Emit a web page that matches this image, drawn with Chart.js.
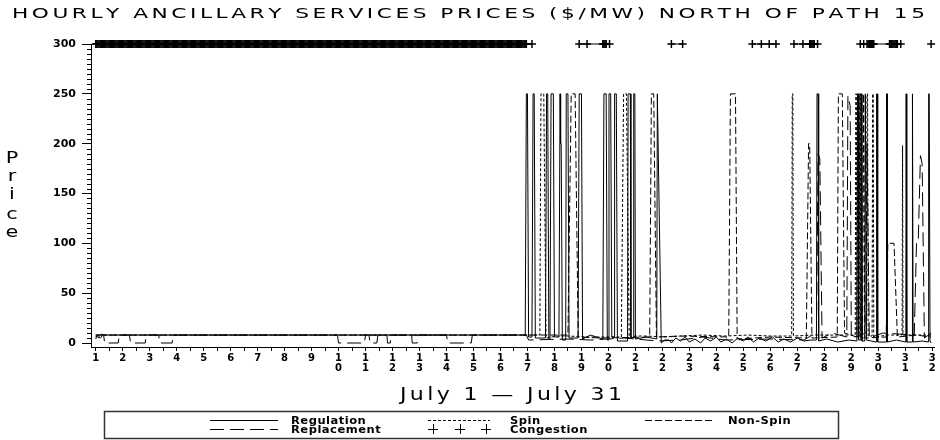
<!DOCTYPE html>
<html><head><meta charset="utf-8">
<script src="https://cdn.jsdelivr.net/npm/chart.js@4.4.0/dist/chart.umd.min.js"></script>
<style>html,body{margin:0;padding:0;background:#fff}#wrap{width:940px;height:440px}</style>
</head><body><div id="wrap"><canvas id="c" width="940" height="440"></canvas></div>
<script>
const chartTitle = 'HOURLY ANCILLARY SERVICES PRICES ($/MW) NORTH OF PATH 15';
const yTitle = 'Price';
const xTitle = 'July 1 \u2014 July 31';
const yTickValues = [0, 50, 100, 150, 200, 250, 300];
const dayLabels = ['1','2','3','4','5','6','7','8','9','10','11','12','13','14','15','16',
  '17','18','19','20','21','22','23','24','25','26','27','28','29','30','31','32'];

// [hour since July 1 00:00, $/MW]
const regulation = [[0,8],[6,8],[10,8],[382,8],[383,250],[384,250],[385,6],[388,6],[389,250],[390,250],
  [391,5],[400,5],[401,250],[402,250],[403,4],[404,4],[405,250],[407,250],[408,6],[412,6],[413,250],
  [413.5,200],[414,200],[415,3],[418,3],[418.5,250],[420,250],[421,5],[429,5],[430,250],[432,250],[433,4],
  [440,8],[451,4],[452,250],[454,250],[455,3],[456,3],[456.5,250],[458,250],[459,6],[461,6],[461.5,250],
  [463,250],[464,2],[473,2],[473.5,250],[475.5,250],[476,5],[478,5],[478.5,250],[479.5,250],[480,4],
  [490,6],[499,4],[499.5,250],[500,250],[503,0],[506,3],[510,3],[512,0],[516,5],[520,2],[524,6],[528,1],
  [533,4],[538,0],[542,5],[547,2],[552,6],[556,1],[561,4],[566,0],[571,5],[576,2],[580,6],[585,1],[590,5],
  [596,2],[602,6],[607,1],[612,4],[618,1],[624,5],[630,2],[636,3],[641,3],[641.5,250],[642.5,250],[643,2],
  [650,4],[660,1],[670,3],[677,2],[677.5,250],[678,250],[678.5,3],[680,3],[680.5,250],[681,250],[681.5,2],
  [684,2],[684.5,250],[685,250],[685.5,3],[694,1],[694.5,250],[695,250],[695.5,1],[703,1],[703.3,250],
  [703.8,250],[704,1],[712,3],[720.5,1],[720.8,250],[721.2,250],[721.5,1],[726,1],[726.2,250],[726.6,250],
  [727,1],[735,2],[740.5,1],[740.8,250],[741.3,250],[742,2],[743,0]];
const spin = [[0,6],[2,9],[4,4],[6,8],[9,8],[395,8],[396,250],[398.5,250],[400.5,5],[410,7],[420,7],
  [440,6],[467.5,6],[469.5,250],[472,250],[474.5,5],[480,7],[490,7],[505,6],[520,7],[540,8],[560,7],
  [580,8],[600,7],[619,7],[619.5,250],[620,250],[620.5,7],[640,8],[655,8],[675.5,8],[676,250],[676.5,250],
  [677,6],[679,6],[679.5,250],[680,250],[680.5,5],[685.5,5],[686,250],[686.5,250],[687,7],[690.5,7],
  [691,250],[691.5,250],[692,6],[705,8],[717.2,8],[717.6,198],[718,8],[743,8]];
const nonSpin = [[0,4],[1,7],[3,5],[5,9],[7,8],[420,8],[422.9,250],[426.4,250],[429.1,6],[450,5],
  [492.7,6],[494.2,250],[496.3,250],[498.7,6],[520,7],[563,6],[564.5,250],[569,250],[570.5,4],[600,6],
  [632,5],[634,200],[635,200],[637,5],[659.5,6],[660.5,250],[664,250],[666,10],[677,6],[678,250],[679,250],
  [680,6],[682,6],[683,250],[684,5],[703,6],[704.5,100],[710,100],[713,6],[730,8],[743,6]];
const replacement = [[0,8],[7,8],[8,0],[20,0],[21,8],[30,8],[31,0],[44,0],[45,8],[56,8],[57,0],[68,0],
  [69,8],[215,8],[216,0],[239,0],[240,8],[243,8],[244,0],[250,0],[251,8],[259,8],[259.5,0],[262,0],
  [262.5,8],[281,8],[281.5,0],[286,0],[286.5,8],[312,8],[313,0],[334,0],[335,8],[383,8],[385,3],[420,4],
  [440,3],[470,5],[500,2],[520,3],[540,6],[560,3],[600,4],[630,3],[640,10],[641,8],[642.5,190],[644,185],
  [646,5],[655,10],[668,6],[669,248],[671,238],[672,5],[685,10],[686,200],[688,5],[700,10],[728,8],
  [730,100],[731.5,100],[733.5,188],[735,180],[737,5],[743,10]];
// congested hours at the $300 marker line: [first hour, last hour, joined group]
const congestionRuns = [[0,383,1],[388,388,1],[430,430,2],[437,437,2],[451,454,2],[457,457,2],
  [512,512,3],[522,522,3],[584,584,4],[592,592,4],[599,599,4],[605,605,4],[621,621,5],[629,629,5],
  [635,639,5],[642,642,5],[680,680,6],[683,683,6],[686,692,6],[706,713,6],[716,716,6],[743,743,7]];
const congestionLevel = 300;

const toPts = a => a.map(p => ({x: p[0], y: p[1]}));
function congestionPts() {
  const out = []; let g = null, last = null;
  congestionRuns.forEach(r => {
    if (g !== null && r[2] !== g) out.push({x: (last + r[0]) / 2, y: null});
    for (let h = r[0]; h <= r[1]; h++) out.push({x: h, y: congestionLevel});
    g = r[2]; last = r[1];
  });
  return out;
}
const tickHours = [];
for (let i = 0; i <= (dayLabels.length - 1) * 2; i++) tickHours.push(i * 12);

// draws text horizontally stretched by sx, spread evenly between x0 and x1
function spaced(ctx, text, x0, x1, y, sx) {
  const chars = text.split('');
  const ws = chars.map(c => ctx.measureText(c).width * sx);
  const tot = ws.reduce((a, b) => a + b, 0);
  const gap = chars.length > 1 ? (x1 - x0 - tot) / (chars.length - 1) : 0;
  let x = x0;
  ctx.textAlign = 'left';
  chars.forEach((c, i) => {
    ctx.save(); ctx.translate(x, y); ctx.scale(sx, 1); ctx.fillText(c, 0, 0); ctx.restore();
    x += ws[i] + gap;
  });
}
// stretched text with a fixed extra gap between characters
function spacedFixed(ctx, text, x0, y, sx, gap) {
  let x = x0;
  ctx.textAlign = 'left';
  text.split('').forEach(c => {
    ctx.save(); ctx.translate(x, y); ctx.scale(sx, 1); ctx.fillText(c, 0, 0); ctx.restore();
    x += ctx.measureText(c).width * sx + gap;
  });
}

const decor = {
  id: 'decor',
  afterDraw(chart) {
    const ctx = chart.ctx, ca = chart.chartArea, ys = chart.scales.y;
    ctx.save();
    ctx.strokeStyle = '#000'; ctx.fillStyle = '#000'; ctx.lineWidth = 1;
    ctx.beginPath();
    for (let v = 5; v < 300; v += 5) {
      if (v % 50 === 0) continue;
      const py = Math.round(ys.getPixelForValue(v)) + 0.5;
      ctx.moveTo(ca.left - 4, py); ctx.lineTo(ca.left, py);
    }
    ctx.stroke();
    ctx.textBaseline = 'alphabetic';
    ctx.font = '14px "DejaVu Sans"';
    spaced(ctx, chartTitle, 12, 925, 18, 1.55);
    ctx.font = '16px "DejaVu Sans"';
    ctx.textAlign = 'center';
    const bl = [163, 181, 199, 219, 237];
    yTitle.split('').forEach((c, i) => {
      ctx.save(); ctx.translate(12, bl[i]); ctx.scale(1.3, 1); ctx.fillText(c, 0, 0); ctx.restore();
    });
    ctx.font = '17px "DejaVu Sans"';
    spaced(ctx, xTitle, 400, 622, 400, 1.3);
    // legend
    ctx.lineWidth = 1.5; ctx.strokeStyle = '#333';
    ctx.strokeRect(104.5, 411.5, 734, 27);
    ctx.strokeStyle = '#000'; ctx.lineWidth = 1;
    const ds = chart.data.datasets;
    const items = [
      {i: 0, sx: 210, ex: 278, tx: 291, y: 420},
      {i: 1, sx: 428, ex: 490, tx: 510, y: 420},
      {i: 2, sx: 645, ex: 712, tx: 728, y: 420},
      {i: 3, sx: 210, ex: 278, tx: 291, y: 429},
      {i: 4, sx: 428, ex: 490, tx: 510, y: 429}
    ];
    ctx.font = 'bold 10px "DejaVu Sans"';
    ctx.textBaseline = 'middle';
    items.forEach(it => {
      const d = ds[it.i];
      if (d.pointStyle === 'cross') {
        ctx.setLineDash([]);
        ctx.beginPath();
        [433, 460, 486].forEach(cx => {
          ctx.moveTo(cx - 5, it.y + 0.5); ctx.lineTo(cx + 5, it.y + 0.5);
          ctx.moveTo(cx + 0.5, it.y - 5); ctx.lineTo(cx + 0.5, it.y + 5);
        });
        ctx.stroke();
      } else {
        ctx.setLineDash(d.borderDash || []);
        ctx.beginPath(); ctx.moveTo(it.sx, it.y + 0.5); ctx.lineTo(it.ex, it.y + 0.5); ctx.stroke();
        ctx.setLineDash([]);
      }
      spacedFixed(ctx, d.label, it.tx, it.y + 1, 1.15, 0.5);
    });
    ctx.restore();
  }
};

const tickFont = {family: 'DejaVu Sans', weight: 'bold', size: 10, lineHeight: 1.05};
new Chart(document.getElementById('c'), {
  type: 'line',
  data: {datasets: [
    {label: 'Regulation', data: toPts(regulation), borderColor: '#000', borderWidth: 1, pointRadius: 0, borderDash: []},
    {label: 'Spin', data: toPts(spin), borderColor: '#000', borderWidth: 1, pointRadius: 0, borderDash: [3, 2]},
    {label: 'Non-Spin', data: toPts(nonSpin), borderColor: '#000', borderWidth: 1, pointRadius: 0, borderDash: [7, 3]},
    {label: 'Replacement', data: toPts(replacement), borderColor: '#000', borderWidth: 1, pointRadius: 0, borderDash: [14, 6]},
    {label: 'Congestion', data: congestionPts(), borderColor: '#000', borderWidth: 1, pointStyle: 'cross',
     pointRadius: 4, pointBorderWidth: 1.5, pointBorderColor: '#000', spanGaps: false, clip: false}
  ]},
  options: {
    responsive: false, animation: false, events: [],
    layout: {padding: {left: 0, right: 5, top: 44, bottom: 0}},
    plugins: {legend: {display: false}, title: {display: false}, tooltip: {enabled: false}},
    elements: {line: {tension: 0}},
    scales: {
      x: {type: 'linear', min: -4.18, max: 746,
        afterFit(s) { s.height = 93; },
        afterBuildTicks(s) { s.ticks = tickHours.map(v => ({value: v})); },
        ticks: {autoSkip: false, maxRotation: 0, minRotation: 0, color: '#000', padding: 2, font: tickFont,
          callback(v) { return v % 24 === 0 ? dayLabels[v / 24].split('') : ''; }},
        grid: {drawOnChartArea: false, tickLength: 4, color: '#000'},
        border: {color: '#000'}},
      y: {min: -4, max: 300,
        afterFit(s) { s.width = 91; },
        afterBuildTicks(s) { s.ticks = yTickValues.map(v => ({value: v})); },
        ticks: {color: '#000', padding: 6, font: {family: 'DejaVu Sans', weight: 'bold', size: 11}},
        grid: {drawOnChartArea: false, tickLength: 9, color: '#000'},
        border: {color: '#000'}}
    }
  },
  plugins: [decor]
});
</script></body></html>
